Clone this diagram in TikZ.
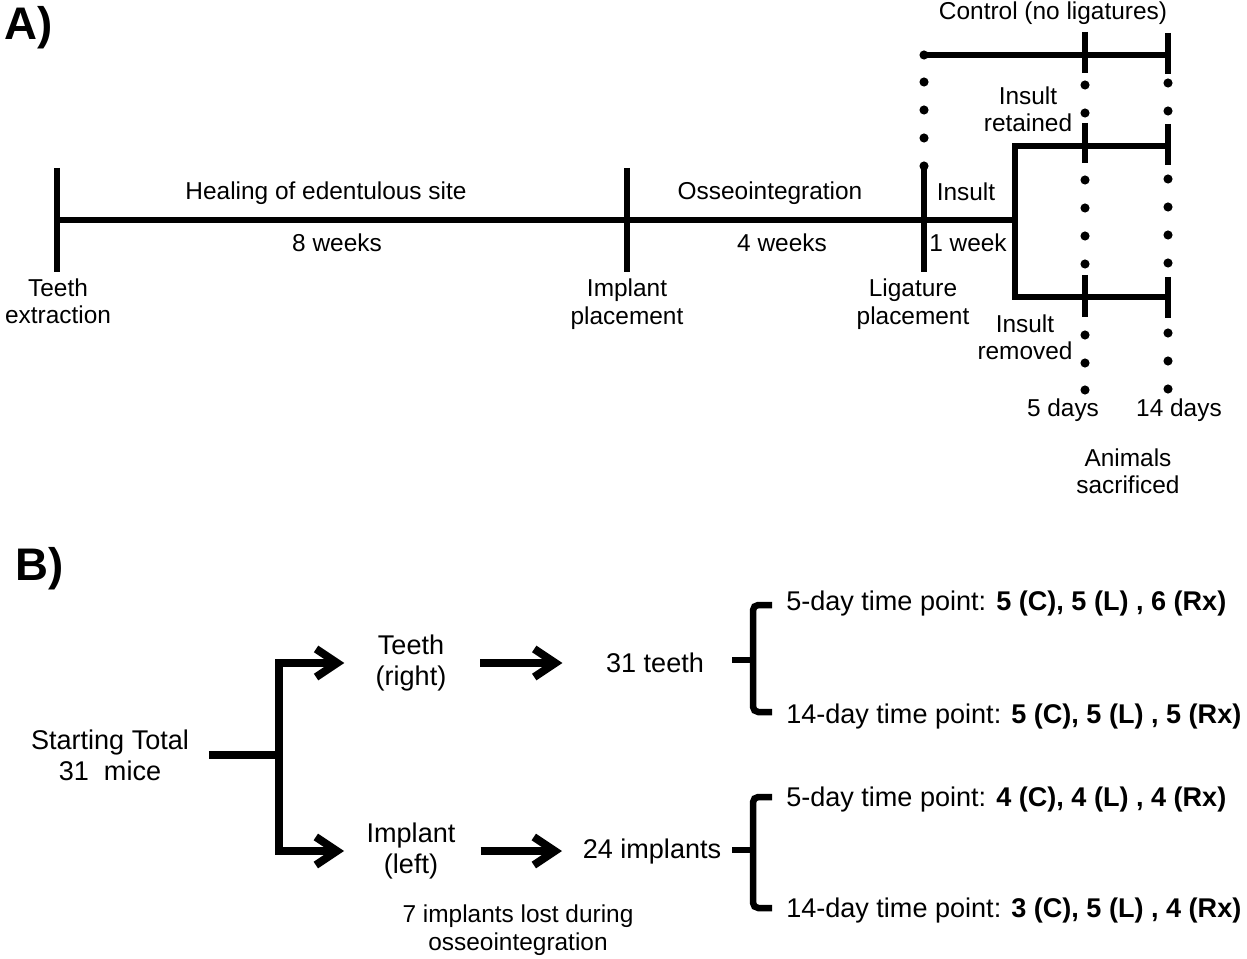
\documentclass[tikz,border=0pt]{standalone}
\usepackage{fontspec}
\setmainfont{Liberation Sans}
\usetikzlibrary{arrows.meta}
\begin{document}
\begin{tikzpicture}[x=0.02cm, y=-0.02cm, line width=3.7pt,
	lbl/.style={font=\fontsize{13.9}{15.6}\selectfont, align=center, inner sep=0pt},
	bl/.style={font=\fontsize{15.4}{17.6}\selectfont, align=center, inner sep=0pt},
	panel/.style={font=\fontsize{26}{26}\selectfont\bfseries, inner sep=0pt, anchor=base west},
	arr/.style={line width=4.5pt, -{Straight Barb[length=12pt,width=16pt]}}]
	\def\dotr{2.6pt}
	\useasboundingbox (0,0) rectangle (1247,959);
	% A) time line
	\node[panel] (pa) at (1,40) {A)};
	\coordinate (ext) at (57,220);
	\coordinate (imp) at (627,220);
	\coordinate (lig) at (924,220);
	\coordinate (fork) at (1015,220);
	\draw (ext) -- (fork);
	\draw (57,168) -- (57,272) (627,168) -- (627,272) (924,166) -- (924,272);
	\draw (1168,146) -- (1015,146) -- (1015,297) -- (1168,297);
	\draw (924,55) -- (1168,55);
	\draw (1085,32) -- (1085,73) (1085,123) -- (1085,163) (1085,275) -- (1085,317);
	\draw (1168,33) -- (1168,74) (1168,124) -- (1168,165) (1168,277) -- (1168,318);
	\foreach \y in {55,82,110,138,166} \fill (924,\y) circle (\dotr);
	\foreach \y in {85,113,180,208,236,264,335,363,390} \fill (1085,\y) circle (\dotr);
	\foreach \y in {83,111,179,207,235,263,333,361,389} \fill (1168,\y) circle (\dotr);
	\node[lbl] (heal) at (326,193) {Healing of edentulous site};
	\node[lbl] (w8) at (337,243) {8 weeks};
	\node[lbl] (teethx) at (58,301) {Teeth\\extraction};
	\node[lbl] (implp) at (627,304) {Implant\\placement};
	\node[lbl] (osse) at (770,193) {Osseointegration};
	\node[lbl] (w4) at (782,243) {4 weeks};
	\node[lbl] (ins) at (966,192) {Insult};
	\node[lbl] (w1) at (968,243) {1 week};
	\node[lbl] (ligp) at (913,304) {Ligature\\placement};
	\node[lbl] (ctrl) at (1053,13) {Control (no ligatures)};
	\node[lbl] (ret) at (1028,109) {Insult\\retained};
	\node[lbl] (rem) at (1025,337) {Insult\\removed};
	\node[lbl] (d5) at (1063,410) {5 days};
	\node[lbl] (d14) at (1179,410) {14 days};
	\node[lbl] (sacr) at (1128,471) {Animals\\sacrificed};
	% B) flow of the animals
	\node[panel] (pb) at (12,580) {B)};
	\node[bl] (start) at (110,755) {Starting Total\\31~~mice};
	\coordinate (split) at (279,755);
	\node[bl] (teeth) at (411,663) {Teeth\\(right)};
	\node[bl] (impl) at (411,851) {Implant\\(left)};
	\node[bl] (nteeth) at (655,663) {31 teeth};
	\node[bl] (nimpl) at (652,851) {24 implants};
	\node[lbl] (lost) at (518,930) {7 implants lost during\\osseointegration};
	\draw[line width=4.5pt, shorten <=9.5pt] (start.east) -- (split);
	\draw[arr, shorten >=16pt] (split) |- (teeth.west);
	\draw[arr, shorten >=11pt] (split) |- (impl.west);
	\draw[arr, shorten <=17.5pt, shorten >=23pt] (teeth.east) -- (nteeth.west);
	\draw[arr, shorten <=12.5pt, shorten >=10pt] (impl.east) -- (nimpl.west);
	\draw[rounded corners=3pt] (772,605) -- (753,605) -- (753,712) -- (772,712);
	\draw (732,660) -- (753,660);
	\draw[rounded corners=3pt] (772,797) -- (753,797) -- (753,908) -- (772,908);
	\draw (732,850) -- (753,850);
	\node[bl, anchor=west] (t5a) at (783,604) {5-day time point: \textbf{5 (C), 5 (L) , 6 (Rx)}};
	\node[bl, anchor=west] (t14a) at (783,716) {14-day time point: \textbf{5 (C), 5 (L) , 5 (Rx)}};
	\node[bl, anchor=west] (t5b) at (783,799) {5-day time point: \textbf{4 (C), 4 (L) , 4 (Rx)}};
	\node[bl, anchor=west] (t14b) at (783,910) {14-day time point: \textbf{3 (C), 5 (L) , 4 (Rx)}};
\end{tikzpicture}
\end{document}
